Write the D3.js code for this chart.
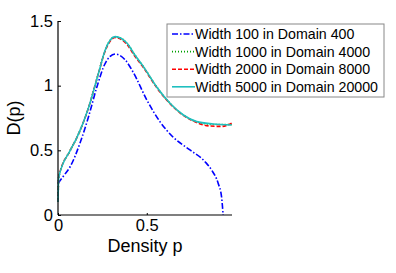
<!DOCTYPE html>
<html>
<head>
<meta charset="utf-8">
<script src="https://cdn.jsdelivr.net/npm/d3@7"></script>
<style>
  body { margin: 0; background: #fff; }
  text { font-family: "Liberation Sans", Arial, sans-serif; }
</style>
</head>
<body>
<div id="chart"></div>
<script>
// Series
const seriesNames = ["Width 100 in Domain 400", "Width 1000 in Domain 4000", "Width 2000 in Domain 8000", "Width 5000 in Domain 20000"];

const pBlue = [0, 0.03, 0.069, 0.125, 0.172, 0.219, 0.266, 0.322, 0.378, 0.425, 0.5, 0.575, 0.65, 0.743, 0.828, 0.865, 0.902, 0.921, 0.93];
const dBlue = [0.245, 0.3, 0.375, 0.56, 0.76, 0.99, 1.173, 1.245, 1.2, 1.1, 0.89, 0.72, 0.6, 0.503, 0.412, 0.348, 0.245, 0.142, 0.0];

const pGreen = [0, 0.004, 0.069, 0.107, 0.172, 0.228, 0.266, 0.322, 0.388, 0.434, 0.481, 0.556, 0.631, 0.706, 0.781, 0.874, 0.978];
const dGreen = [0.1, 0.29, 0.5, 0.6, 0.83, 1.096, 1.276, 1.378, 1.33, 1.235, 1.147, 0.99, 0.864, 0.773, 0.72, 0.7, 0.7];

const pRed = [0, 0.004, 0.069, 0.107, 0.172, 0.228, 0.266, 0.322, 0.388, 0.434, 0.481, 0.556, 0.631, 0.706, 0.781, 0.856, 0.92, 0.978];
const dRed = [0.1, 0.29, 0.5, 0.6, 0.83, 1.096, 1.27, 1.372, 1.32, 1.225, 1.14, 0.985, 0.86, 0.77, 0.715, 0.688, 0.685, 0.71];

const pCyan = [0, 0.004, 0.069, 0.107, 0.172, 0.228, 0.266, 0.322, 0.388, 0.434, 0.481, 0.556, 0.631, 0.706, 0.781, 0.874, 0.978];
const dCyan = [0.1, 0.29, 0.5, 0.6, 0.83, 1.096, 1.276, 1.379, 1.33, 1.235, 1.147, 0.99, 0.864, 0.773, 0.722, 0.704, 0.696];

const xTicks = [0, 0.5];
const yTicks = [0, 0.5, 1, 1.5];

const series = [
  { name: seriesNames[0], p: pBlue, d: dBlue, color: "#0000ff", dash: "6,2,1.5,2" },
  { name: seriesNames[1], p: pGreen, d: dGreen, color: "#00a000", dash: "1,2" },
  { name: seriesNames[2], p: pRed, d: dRed, color: "#ff0000", dash: "4,2" },
  { name: seriesNames[3], p: pCyan, d: dCyan, color: "#1fbfbf", dash: null }
];

const W = 396, H = 273;
const margin = { top: 21, right: 164, bottom: 58, left: 58 };
const width = W - margin.left - margin.right;
const height = H - margin.top - margin.bottom;

const svg = d3.select("#chart").append("svg")
  .attr("width", W).attr("height", H);
svg.append("rect").attr("width", W).attr("height", H).attr("fill", "#fff");

const g = svg.append("g").attr("transform", `translate(${margin.left},${margin.top})`);

const x = d3.scaleLinear().domain([0, 0.98]).range([0, width]);
const y = d3.scaleLinear().domain([0, 1.5]).range([height, 0]);

// Curves
const line = d3.line()
  .x(d => x(d[0]))
  .y(d => y(d[1]))
  .curve(d3.curveMonotoneX);

series.forEach(s => {
  const pts = s.p.map((v, i) => [v, s.d[i]]);
  g.append("path")
    .datum(pts)
    .attr("fill", "none")
    .attr("stroke", s.color)
    .attr("stroke-width", 1.6)
    .attr("stroke-dasharray", s.dash)
    .attr("d", line);
});

// Axes (MATLAB style: inward ticks, no box)
const xAxis = g.append("g")
  .attr("transform", `translate(0,${height})`)
  .call(d3.axisBottom(x).tickValues(xTicks).tickSize(-2).tickPadding(4).tickFormat(d3.format("")));
const yAxis = g.append("g")
  .call(d3.axisLeft(y).tickValues(yTicks).tickSize(-3).tickPadding(5).tickFormat(d3.format("")));

[xAxis, yAxis].forEach(a => {
  a.select(".domain").attr("stroke", "#000").attr("stroke-width", 1.2);
  a.selectAll(".tick line").attr("stroke", "#000");
  a.selectAll(".tick text").attr("font-size", 16.5).attr("fill", "#000")
    .style("font-family", "'Liberation Sans', Arial, sans-serif");
});
xAxis.select(".domain").attr("d", `M0,0H${width}`);
yAxis.select(".domain").attr("d", `M0,${height}V0`);

// Axis labels
g.append("text")
  .attr("x", width / 2)
  .attr("y", height + 37)
  .attr("text-anchor", "middle")
  .attr("font-size", 18)
  .text("Density p");

g.append("text")
  .attr("transform", "rotate(-90)")
  .attr("x", -height / 2)
  .attr("y", -margin.left + 20)
  .attr("text-anchor", "middle")
  .attr("font-size", 18)
  .text("D(p)");

// Legend
const lg = svg.append("g").attr("transform", "translate(167,24)");
lg.append("rect")
  .attr("width", 217).attr("height", 73)
  .attr("fill", "#fff").attr("stroke", "#888").attr("stroke-width", 1);

series.forEach((s, i) => {
  const cy = 10 + i * 17.6;
  lg.append("line")
    .attr("x1", 5).attr("x2", 28)
    .attr("y1", cy).attr("y2", cy)
    .attr("stroke", s.color)
    .attr("stroke-width", 1.6)
    .attr("stroke-dasharray", s.dash);
  lg.append("text")
    .attr("x", 28).attr("y", cy + 5)
    .attr("font-size", 14.2)
    .text(s.name);
});
</script>
</body>
</html>
